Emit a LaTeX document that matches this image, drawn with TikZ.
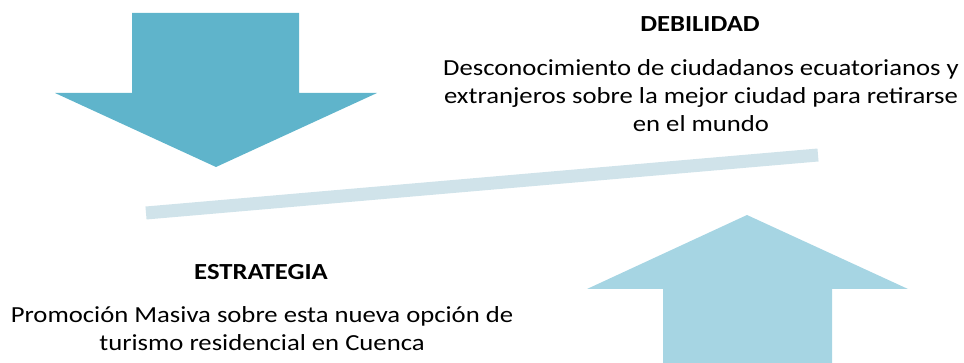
\documentclass[tikz,border=0pt]{standalone}
\usepackage{fontspec}
\setmainfont{Carlito}
\newfontfamily\diafont[FakeStretch=1.16]{Carlito}
\definecolor{darrow}{HTML}{5FB4CB}
\definecolor{uarrow}{HTML}{A6D5E3}
\definecolor{barc}{HTML}{D0E3EA}
\begin{document}
\begin{tikzpicture}[x=1pt,y=-1pt,
  heading/.style={font=\diafont\fontsize{23}{28}\selectfont\bfseries, inner sep=0pt},
  body/.style={font=\diafont\fontsize{23}{28}\selectfont, align=center, inner sep=0pt}]
\useasboundingbox (0,0) rectangle (964,363);
% down arrow
\fill[darrow] (132,13) -- (299,13) -- (299,93) -- (377,93) -- (216,167) -- (55,93) -- (132,93) -- cycle;
% up arrow
\fill[uarrow] (663,363) -- (663,289) -- (587,289) -- (747,215) -- (908,289) -- (832,289) -- (832,363) -- cycle;
% bar
\coordinate (bl) at (146,213);
\coordinate (br) at (818,155);
\draw[barc, line width=13pt] (bl) -- (br);
% texts
\node[heading] (deb) at (700,24) {DEBILIDAD};
\node[body] (debt) at (701,96) {Desconocimiento de ciudadanos ecuatorianos y\\extranjeros sobre la mejor ciudad para retirarse\\en el mundo};
\node[heading] (est) at (261,272) {ESTRATEGIA};
\node[body] (estt) at (262,329) {Promoción Masiva sobre esta nueva opción de\\turismo residencial en Cuenca};
\end{tikzpicture}
\end{document}
